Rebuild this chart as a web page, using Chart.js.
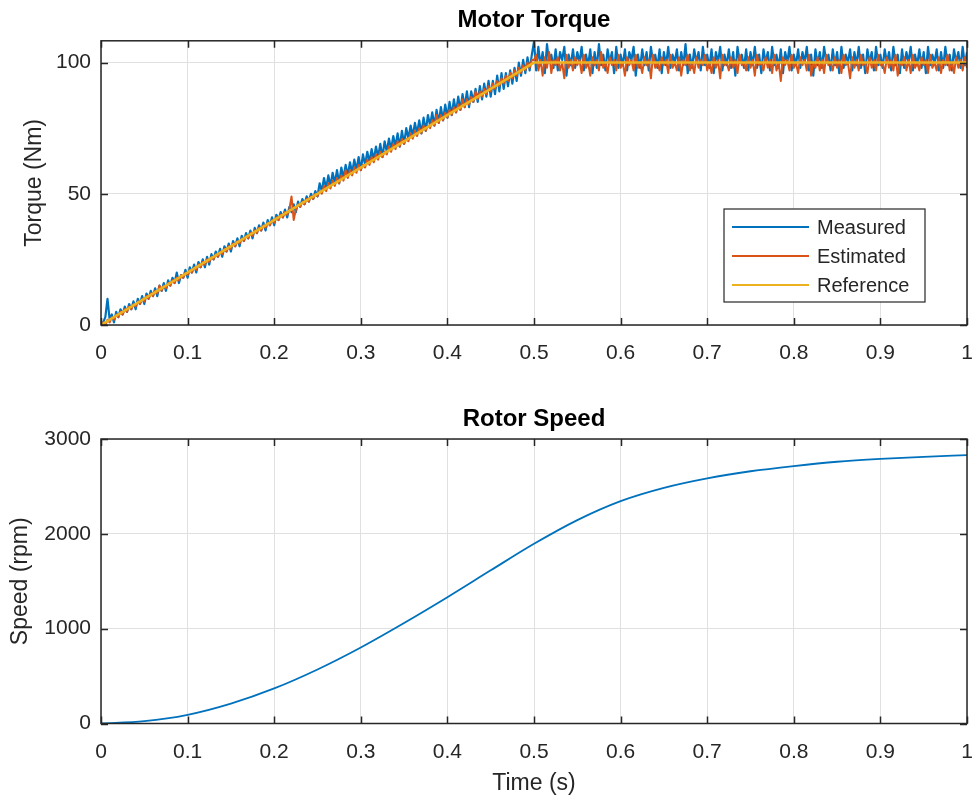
<!DOCTYPE html>
<html lang="en">
<head>
<meta charset="UTF-8">
<title>Motor Torque and Rotor Speed</title>
<script src="https://cdn.jsdelivr.net/npm/chart.js"></script>
<style>
    body { margin: 0; background: #fff; }
    .wrap { position: relative; width: 980px; height: 804px; }
    #torqueChart { position: absolute; left: 0; top: 0; }
    #speedChart { position: absolute; left: 0; top: 390px; }
</style>
</head>
<body>
<div class="wrap">
    <canvas id="torqueChart" width="980" height="390"></canvas>
    <canvas id="speedChart" width="980" height="414"></canvas>
</div>
<script>
// ---- data ----
const sampleStep = 0.0025; // torque samples every 2.5 ms

const measuredTorque = [
    0, 1, 3, 10, 2, 4, 1, 5, 3, 6,
    4, 7, 5, 8, 6, 9, 6, 10, 8, 11,
    8, 12, 10, 13, 11, 14, 11, 15, 13, 16,
    13, 17, 15, 18, 16, 20, 16, 19, 18, 21,
    18, 22, 20, 23, 20, 24, 22, 25, 22, 26,
    23, 27, 25, 28, 26, 29, 26, 30, 28, 31,
    28, 32, 30, 33, 30, 34, 32, 35, 33, 36,
    33, 37, 35, 38, 36, 39, 36, 40, 38, 41,
    38, 42, 40, 43, 41, 44, 41, 45, 43, 46,
    43, 47, 45, 48, 46, 49, 47, 50, 48, 51,
    49, 54, 51, 56, 52, 57, 53, 58, 54, 59,
    54, 60, 56, 61, 57, 62, 58, 63, 59, 64,
    59, 65, 61, 66, 62, 67, 63, 68, 64, 69,
    64, 70, 66, 71, 67, 72, 68, 73, 68, 74,
    69, 75, 71, 76, 72, 77, 73, 78, 73, 79,
    74, 80, 76, 81, 76, 82, 77, 83, 78, 84,
    79, 85, 80, 86, 81, 87, 82, 88, 83, 89,
    83, 89, 85, 90, 85, 91, 86, 92, 87, 93,
    87, 93, 88, 95, 89, 96, 90, 96, 91, 97,
    92, 98, 93, 100, 95, 101, 96, 102, 97, 103,
    108,
    97, 106, 99, 104, 96, 107, 100, 103, 98, 105, 97, 104, 101, 106, 95, 103, 99, 105, 98, 104,
    100, 106, 97, 103, 99, 105, 96, 104, 98, 107, 99, 103, 97, 105, 100, 104, 96, 106, 98, 103,
    99, 105, 97, 104, 101, 106, 95, 103, 98, 105, 99, 104, 97, 106, 100, 103, 98, 105, 96, 104,
    99, 106, 98, 103, 100, 105, 97, 104, 99, 107, 96, 103, 98, 105, 100, 104, 97, 106, 99, 103,
    98, 105, 96, 104, 100, 106, 97, 103, 99, 105, 98, 104, 95, 106, 100, 103, 98, 105, 97, 104,
    99, 106, 98, 103, 96, 105, 100, 104, 97, 106, 99, 103, 98, 105, 96, 104, 100, 106, 97, 103,
    99, 105, 98, 104, 100, 106, 97, 103, 95, 105, 99, 104, 98, 106, 100, 103, 97, 105, 99, 104,
    96, 106, 98, 103, 100, 105, 97, 104, 99, 106, 98, 103, 96, 105, 100, 104, 97, 106, 99, 103,
    98, 105, 100, 104, 97, 106, 99, 103, 96, 105, 98, 104, 100, 106, 97, 103, 99, 105, 98, 104,
    96, 106, 99, 103, 100, 105, 97, 104, 98, 106, 99, 103, 97, 105, 100, 104, 98, 106, 99, 104
];

const estimatedTorque = [
    0, 1, 0, 2, 1, 3, 2, 4, 3, 5,
    4, 6, 5, 7, 6, 8, 7, 9, 8, 10,
    9, 11, 10, 12, 11, 13, 12, 15, 13, 15,
    14, 16, 15, 17, 16, 18, 17, 19, 18, 20,
    19, 21, 20, 22, 21, 23, 22, 24, 23, 25,
    24, 26, 25, 27, 26, 28, 27, 29, 28, 30,
    29, 31, 30, 32, 31, 33, 32, 34, 33, 35,
    34, 36, 35, 37, 36, 38, 37, 39, 38, 40,
    39, 41, 40, 42, 41, 43, 42, 44, 49, 40,
    44, 46, 45, 47, 46, 48, 47, 49, 48, 50,
    49, 51, 50, 53, 51, 54, 52, 55, 53, 56,
    54, 57, 55, 59, 56, 59, 57, 60, 58, 61,
    59, 61, 60, 63, 61, 64, 62, 65, 63, 66,
    64, 66, 65, 68, 66, 69, 67, 70, 68, 71,
    69, 71, 70, 73, 71, 74, 72, 75, 73, 76,
    74, 76, 75, 78, 76, 80, 77, 80, 78, 81,
    79, 82, 80, 83, 81, 84, 82, 86, 83, 86,
    84, 87, 85, 89, 86, 89, 87, 90, 88, 91,
    89, 92, 90, 93, 91, 94, 92, 95, 93, 96,
    94, 97, 95, 98, 96, 99, 97, 100, 98, 101,
    101,
    103, 97, 101, 95, 102, 98, 104, 96, 101, 99, 102, 97, 100, 94, 103, 98, 101, 97, 102, 99,
    101, 96, 103, 98, 100, 95, 102, 99, 101, 97, 104, 98, 100, 96, 102, 99, 101, 97, 103, 98,
    100, 95, 102, 99, 101, 97, 103, 98, 100, 96, 102, 99, 101, 94, 103, 98, 100, 97, 102, 99,
    101, 96, 103, 98, 100, 97, 102, 95, 101, 99, 103, 97, 100, 96, 102, 98, 101, 99, 103, 97,
    100, 96, 102, 98, 101, 94, 103, 99, 100, 97, 102, 98, 101, 96, 103, 99, 100, 97, 102, 98,
    101, 95, 103, 99, 100, 97, 102, 98, 101, 96, 103, 97, 100, 93, 102, 99, 101, 97, 103, 98,
    100, 96, 102, 99, 101, 97, 103, 95, 100, 98, 102, 97, 101, 96, 103, 99, 100, 97, 102, 98,
    101, 96, 103, 99, 100, 94, 102, 98, 101, 97, 103, 99, 100, 96, 102, 98, 101, 97, 103, 99,
    100, 96, 102, 98, 101, 97, 103, 95, 100, 99, 102, 97, 101, 96, 103, 98, 100, 97, 102, 99,
    101, 96, 103, 98, 100, 97, 102, 96, 101, 99, 103, 97, 100, 96, 102, 98, 101, 97, 102, 98
];

const referenceTime = [0, 0.5, 1];
const referenceTorque = [0, 100, 100];

const speedTime = [0, 0.05, 0.1, 0.15, 0.2, 0.25, 0.3, 0.35, 0.4, 0.45, 0.5,
                   0.55, 0.6, 0.65, 0.7, 0.75, 0.8, 0.85, 0.9, 0.95, 1];
const rotorSpeed = [0, 25, 92, 210, 370, 570, 802, 1060, 1332, 1615, 1895,
                    2145, 2345, 2485, 2585, 2660, 2715, 2760, 2790, 2812, 2830];

const timeTicks = [0, 0.1, 0.2, 0.3, 0.4, 0.5, 0.6, 0.7, 0.8, 0.9, 1];
const torqueTicks = [0, 50, 100];
const speedTicks = [0, 1000, 2000, 3000];

// ---- styling ----
const FONT = 'Arial, "Liberation Sans", Helvetica, sans-serif';
const AXIS_COLOR = '#262626';
const GRID_COLOR = '#e0e0e0';
const BLUE = '#0072BD', RED = '#D95319', YELLOW = '#EDB120';

function pairs(xs, ys) {
    return ys.map((y, i) => ({ x: xs[i], y: y }));
}
const torqueTime = measuredTorque.map((_, i) => i * sampleStep);

// box around the axes with inward tick marks, plus optional legend
const axesBox = {
    id: 'axesBox',
    afterDraw(chart, args, opts) {
        const { ctx, chartArea: a } = chart;
        const x = chart.scales.x, y = chart.scales.y;
        ctx.save();
        ctx.strokeStyle = AXIS_COLOR;
        ctx.lineWidth = 1.5;
        ctx.beginPath();
        x.ticks.forEach(t => {
            const px = Math.round(x.getPixelForValue(t.value)) + 0.5;
            ctx.moveTo(px, a.bottom); ctx.lineTo(px, a.bottom - 7);
            ctx.moveTo(px, a.top); ctx.lineTo(px, a.top + 7);
        });
        y.ticks.forEach(t => {
            const py = Math.round(y.getPixelForValue(t.value)) + 0.5;
            ctx.moveTo(a.left, py); ctx.lineTo(a.left + 7, py);
            ctx.moveTo(a.right, py); ctx.lineTo(a.right - 7, py);
        });
        ctx.stroke();
        ctx.strokeRect(a.left, a.top, a.right - a.left, a.bottom - a.top);

        if (opts.legend) {
            const bw = 201, bh = 93;
            const bx = a.right - 42 - bw, by = a.bottom - 23 - bh;
            ctx.fillStyle = '#fff';
            ctx.fillRect(bx, by, bw, bh);
            ctx.lineWidth = 1.2;
            ctx.strokeRect(bx, by, bw, bh);
            ctx.font = '20px ' + FONT;
            ctx.textBaseline = 'middle';
            ctx.textAlign = 'left';
            chart.data.datasets.forEach((ds, i) => {
                const ly = by + 18 + i * 29;
                ctx.strokeStyle = ds.borderColor;
                ctx.lineWidth = 2;
                ctx.beginPath();
                ctx.moveTo(bx + 8, ly); ctx.lineTo(bx + 85, ly);
                ctx.stroke();
                ctx.fillStyle = AXIS_COLOR;
                ctx.fillText(ds.label, bx + 93, ly + 1);
            });
        }
        ctx.restore();
    }
};

function axes(opts) {
    return {
        x: {
            type: 'linear', min: 0, max: 1,
            afterBuildTicks: s => { s.ticks = timeTicks.map(v => ({ value: v })); },
            afterFit: s => { s.height = opts.xHeight; },
            grid: { color: GRID_COLOR, drawTicks: true, tickLength: 16, tickColor: 'rgba(0,0,0,0)' },
            border: { display: false },
            ticks: {
                autoSkip: false, maxRotation: 0, padding: 0,
                color: AXIS_COLOR, font: { family: FONT, size: 21 },
                callback: v => String(+v.toFixed(1))
            },
            title: opts.xTitle ? {
                display: true, text: opts.xTitle, color: AXIS_COLOR,
                font: { family: FONT, size: 23 }, padding: { top: 0, bottom: 7 }
            } : { display: false }
        },
        y: {
            type: 'linear', min: 0, max: opts.yMax,
            afterBuildTicks: s => { s.ticks = opts.yTicks.map(v => ({ value: v })); },
            afterFit: s => { s.width = 101; },
            grid: { color: GRID_COLOR, drawTicks: false },
            border: { display: false },
            ticks: {
                padding: 10, color: AXIS_COLOR, font: { family: FONT, size: 21 },
                callback: v => String(v)
            },
            title: {
                display: true, text: opts.yTitle, color: AXIS_COLOR,
                font: { family: FONT, size: 23 }, padding: { top: opts.yTitlePad, bottom: 0 }
            }
        }
    };
}

new Chart(document.getElementById('torqueChart'), {
    type: 'line',
    data: {
        datasets: [
            { label: 'Measured', data: pairs(torqueTime, measuredTorque), borderColor: BLUE, borderWidth: 2.2, borderJoinStyle: 'round', order: 3 },
            { label: 'Estimated', data: pairs(torqueTime, estimatedTorque), borderColor: RED, borderWidth: 2, borderJoinStyle: 'round', order: 2 },
            { label: 'Reference', data: pairs(referenceTime, referenceTorque), borderColor: YELLOW, borderWidth: 2.5, order: 1 }
        ]
    },
    options: {
        responsive: false, animation: false,
        layout: { padding: { left: 0, right: 13, top: 0, bottom: 0 } },
        elements: { point: { radius: 0 }, line: { tension: 0 } },
        plugins: {
            legend: { display: false },
            tooltip: { enabled: false },
            title: {
                display: true, text: 'Motor Torque', fullSize: false, color: '#000',
                font: { family: FONT, size: 24, weight: 'bold' },
                padding: { top: 6, bottom: 6 }
            },
            axesBox: { legend: true }
        },
        scales: axes({ xHeight: 65, yMax: 108.3, yTicks: torqueTicks, yTitle: 'Torque (Nm)', yTitlePad: 21 })
    },
    plugins: [axesBox]
});

new Chart(document.getElementById('speedChart'), {
    type: 'line',
    data: {
        datasets: [
            { label: 'Speed', data: pairs(speedTime, rotorSpeed), borderColor: BLUE, borderWidth: 1.8, cubicInterpolationMode: 'monotone' }
        ]
    },
    options: {
        responsive: false, animation: false,
        layout: { padding: { left: 0, right: 13, top: 0, bottom: 0 } },
        elements: { point: { radius: 0 } },
        plugins: {
            legend: { display: false },
            tooltip: { enabled: false },
            title: {
                display: true, text: 'Rotor Speed', fullSize: false, color: '#000',
                font: { family: FONT, size: 24, weight: 'bold' },
                padding: { top: 15, bottom: 5.2 }
            },
            axesBox: { legend: false }
        },
        scales: axes({ xHeight: 80.5, xTitle: 'Time (s)', yMax: 3000, yTicks: speedTicks, yTitle: 'Speed (rpm)', yTitlePad: 7 })
    },
    plugins: [axesBox]
});
</script>
</body>
</html>
